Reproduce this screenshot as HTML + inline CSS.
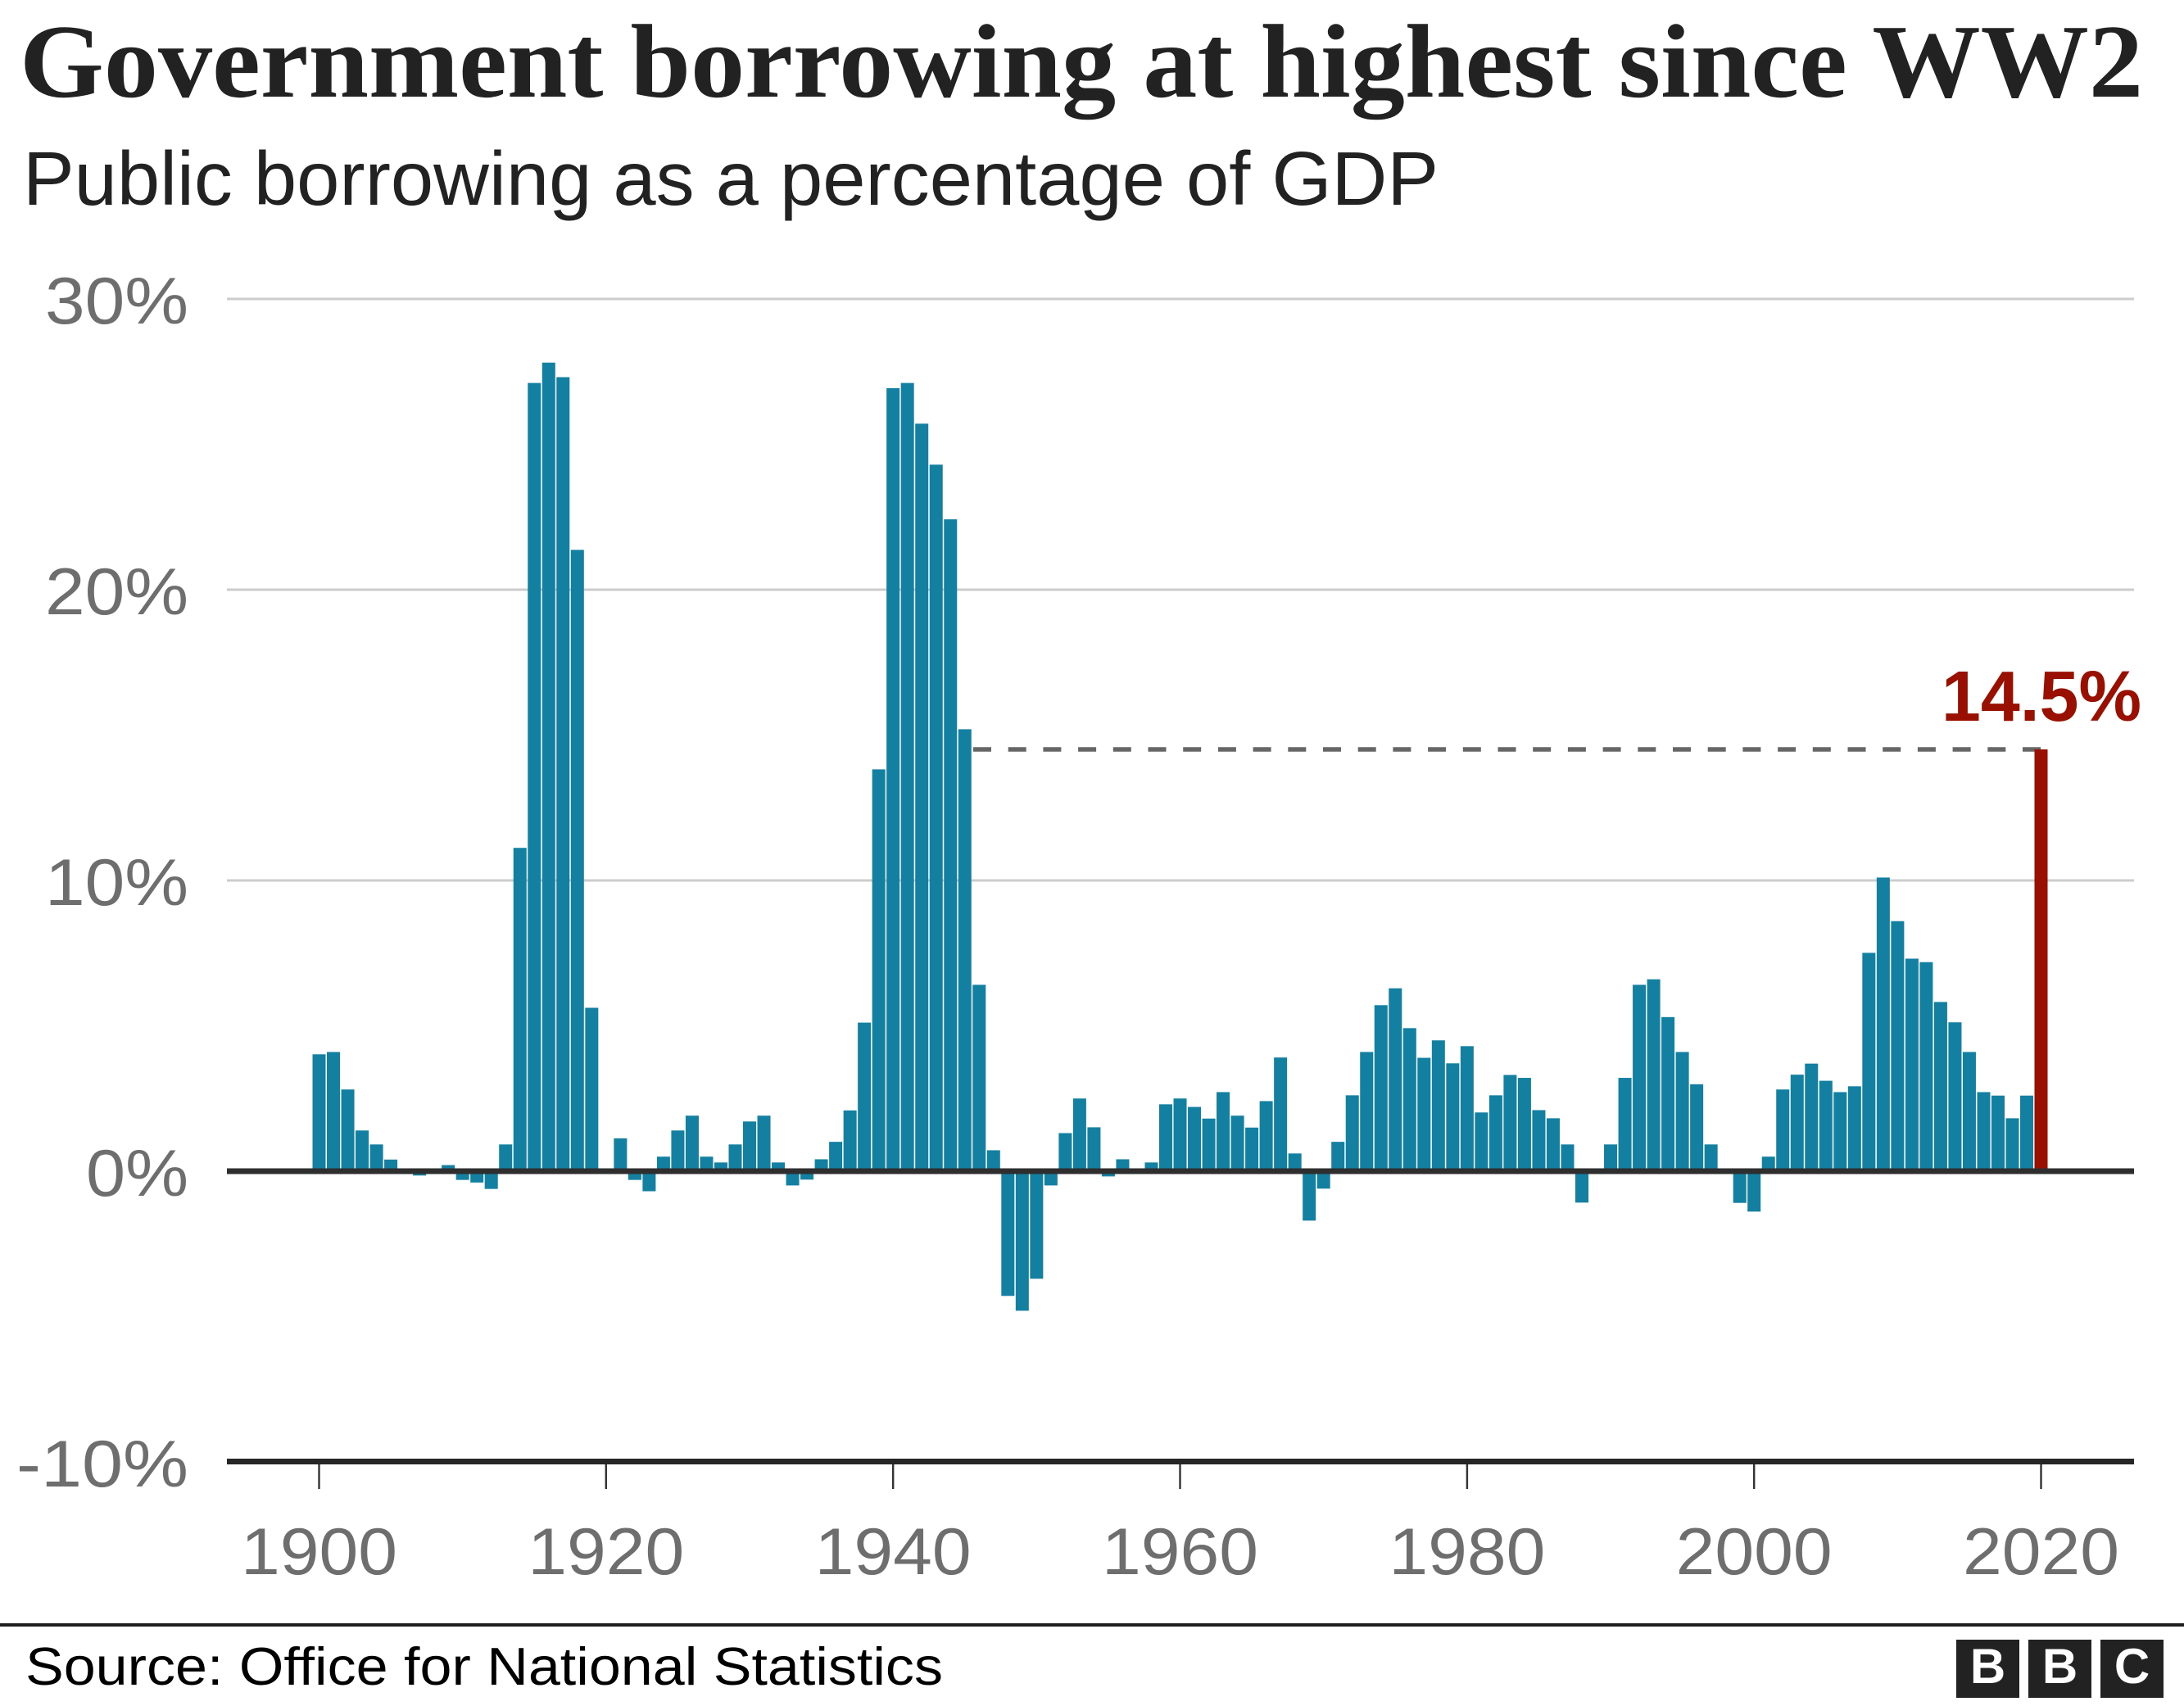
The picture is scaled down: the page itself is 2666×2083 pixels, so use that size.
<!DOCTYPE html>
<html>
<head>
<meta charset="utf-8">
<style>
  html, body { margin: 0; padding: 0; background: #ffffff; }
  body { width: 2666px; height: 2083px; overflow: hidden; }
  svg { display: block; }
  .sans { font-family: "Liberation Sans", "DejaVu Sans", sans-serif; }
  .serif { font-family: "Liberation Serif", "DejaVu Serif", serif; }
</style>
</head>
<body>
<svg width="2666" height="2083" viewBox="0 0 2666 2083" xmlns="http://www.w3.org/2000/svg">
  <rect x="0" y="0" width="2666" height="2083" fill="#ffffff"/>

  <!-- Title & subtitle -->
  <text class="serif" x="24" y="118" font-size="128" font-weight="bold" fill="#222222" textLength="2592" lengthAdjust="spacingAndGlyphs">Government borrowing at highest since WW2</text>
  <text class="sans" x="28" y="250" font-size="93" fill="#222222" textLength="1728" lengthAdjust="spacingAndGlyphs">Public borrowing as a percentage of GDP</text>

  <!-- Gridlines -->
  <g fill="#cccccc">
    <rect x="277" y="363.5" width="2328" height="3"/>
    <rect x="277" y="718.5" width="2328" height="3"/>
    <rect x="277" y="1073.5" width="2328" height="3"/>
  </g>

  <!-- Y axis labels -->
  <g class="sans" font-size="81" fill="#6e6e6e" text-anchor="end">
    <text x="230" y="395" textLength="175" lengthAdjust="spacingAndGlyphs">30%</text>
    <text x="230" y="750" textLength="175" lengthAdjust="spacingAndGlyphs">20%</text>
    <text x="230" y="1105" textLength="175" lengthAdjust="spacingAndGlyphs">10%</text>
    <text x="230" y="1460" textLength="125" lengthAdjust="spacingAndGlyphs">0%</text>
    <text x="230" y="1815" textLength="210" lengthAdjust="spacingAndGlyphs">-10%</text>
  </g>

  <!-- Bars (years 1900-2019) -->
  <g transform="translate(381.5 1430) scale(17.517 -35.5)" fill="#1380a1">
    <rect x="0" y="0" width="0.9134" height="4.02"/>
    <rect x="1" y="0" width="0.9134" height="4.10"/>
    <rect x="2" y="0" width="0.9134" height="2.81"/>
    <rect x="3" y="0" width="0.9134" height="1.40"/>
    <rect x="4" y="0" width="0.9134" height="0.92"/>
    <rect x="5" y="0" width="0.9134" height="0.40"/>
    <rect x="7" y="-0.15" width="0.9134" height="0.15"/>
    <rect x="9" y="0" width="0.9134" height="0.21"/>
    <rect x="10" y="-0.30" width="0.9134" height="0.30"/>
    <rect x="11" y="-0.39" width="0.9134" height="0.39"/>
    <rect x="12" y="-0.61" width="0.9134" height="0.61"/>
    <rect x="13" y="0" width="0.9134" height="0.92"/>
    <rect x="14" y="0" width="0.9134" height="11.12"/>
    <rect x="15" y="0" width="0.9134" height="27.11"/>
    <rect x="16" y="0" width="0.9134" height="27.81"/>
    <rect x="17" y="0" width="0.9134" height="27.31"/>
    <rect x="18" y="0" width="0.9134" height="21.37"/>
    <rect x="19" y="0" width="0.9134" height="5.62"/>
    <rect x="21" y="0" width="0.9134" height="1.13"/>
    <rect x="22" y="-0.30" width="0.9134" height="0.30"/>
    <rect x="23" y="-0.69" width="0.9134" height="0.69"/>
    <rect x="24" y="0" width="0.9134" height="0.50"/>
    <rect x="25" y="0" width="0.9134" height="1.40"/>
    <rect x="26" y="0" width="0.9134" height="1.91"/>
    <rect x="27" y="0" width="0.9134" height="0.50"/>
    <rect x="28" y="0" width="0.9134" height="0.30"/>
    <rect x="29" y="0" width="0.9134" height="0.92"/>
    <rect x="30" y="0" width="0.9134" height="1.71"/>
    <rect x="31" y="0" width="0.9134" height="1.91"/>
    <rect x="32" y="0" width="0.9134" height="0.30"/>
    <rect x="33" y="-0.49" width="0.9134" height="0.49"/>
    <rect x="34" y="-0.29" width="0.9134" height="0.29"/>
    <rect x="35" y="0" width="0.9134" height="0.41"/>
    <rect x="36" y="0" width="0.9134" height="1.01"/>
    <rect x="37" y="0" width="0.9134" height="2.09"/>
    <rect x="38" y="0" width="0.9134" height="5.11"/>
    <rect x="39" y="0" width="0.9134" height="13.82"/>
    <rect x="40" y="0" width="0.9134" height="26.93"/>
    <rect x="41" y="0" width="0.9134" height="27.11"/>
    <rect x="42" y="0" width="0.9134" height="25.71"/>
    <rect x="43" y="0" width="0.9134" height="24.30"/>
    <rect x="44" y="0" width="0.9134" height="22.42"/>
    <rect x="45" y="0" width="0.9134" height="15.20"/>
    <rect x="46" y="0" width="0.9134" height="6.41"/>
    <rect x="47" y="0" width="0.9134" height="0.72"/>
    <rect x="48" y="-4.29" width="0.9134" height="4.29"/>
    <rect x="49" y="-4.80" width="0.9134" height="4.80"/>
    <rect x="50" y="-3.70" width="0.9134" height="3.70"/>
    <rect x="51" y="-0.49" width="0.9134" height="0.49"/>
    <rect x="52" y="0" width="0.9134" height="1.31"/>
    <rect x="53" y="0" width="0.9134" height="2.50"/>
    <rect x="54" y="0" width="0.9134" height="1.51"/>
    <rect x="55" y="-0.18" width="0.9134" height="0.18"/>
    <rect x="56" y="0" width="0.9134" height="0.41"/>
    <rect x="58" y="0" width="0.9134" height="0.30"/>
    <rect x="59" y="0" width="0.9134" height="2.30"/>
    <rect x="60" y="0" width="0.9134" height="2.50"/>
    <rect x="61" y="0" width="0.9134" height="2.21"/>
    <rect x="62" y="0" width="0.9134" height="1.81"/>
    <rect x="63" y="0" width="0.9134" height="2.72"/>
    <rect x="64" y="0" width="0.9134" height="1.91"/>
    <rect x="65" y="0" width="0.9134" height="1.50"/>
    <rect x="66" y="0" width="0.9134" height="2.41"/>
    <rect x="67" y="0" width="0.9134" height="3.91"/>
    <rect x="68" y="0" width="0.9134" height="0.61"/>
    <rect x="69" y="-1.70" width="0.9134" height="1.70"/>
    <rect x="70" y="-0.60" width="0.9134" height="0.60"/>
    <rect x="71" y="0" width="0.9134" height="1.01"/>
    <rect x="72" y="0" width="0.9134" height="2.61"/>
    <rect x="73" y="0" width="0.9134" height="4.10"/>
    <rect x="74" y="0" width="0.9134" height="5.71"/>
    <rect x="75" y="0" width="0.9134" height="6.29"/>
    <rect x="76" y="0" width="0.9134" height="4.92"/>
    <rect x="77" y="0" width="0.9134" height="3.90"/>
    <rect x="78" y="0" width="0.9134" height="4.50"/>
    <rect x="79" y="0" width="0.9134" height="3.71"/>
    <rect x="80" y="0" width="0.9134" height="4.30"/>
    <rect x="81" y="0" width="0.9134" height="2.02"/>
    <rect x="82" y="0" width="0.9134" height="2.61"/>
    <rect x="83" y="0" width="0.9134" height="3.31"/>
    <rect x="84" y="0" width="0.9134" height="3.21"/>
    <rect x="85" y="0" width="0.9134" height="2.10"/>
    <rect x="86" y="0" width="0.9134" height="1.82"/>
    <rect x="87" y="0" width="0.9134" height="0.92"/>
    <rect x="88" y="-1.08" width="0.9134" height="1.08"/>
    <rect x="90" y="0" width="0.9134" height="0.92"/>
    <rect x="91" y="0" width="0.9134" height="3.21"/>
    <rect x="92" y="0" width="0.9134" height="6.41"/>
    <rect x="93" y="0" width="0.9134" height="6.60"/>
    <rect x="94" y="0" width="0.9134" height="5.30"/>
    <rect x="95" y="0" width="0.9134" height="4.10"/>
    <rect x="96" y="0" width="0.9134" height="2.99"/>
    <rect x="97" y="0" width="0.9134" height="0.92"/>
    <rect x="99" y="-1.09" width="0.9134" height="1.09"/>
    <rect x="100" y="-1.39" width="0.9134" height="1.39"/>
    <rect x="101" y="0" width="0.9134" height="0.50"/>
    <rect x="102" y="0" width="0.9134" height="2.81"/>
    <rect x="103" y="0" width="0.9134" height="3.32"/>
    <rect x="104" y="0" width="0.9134" height="3.70"/>
    <rect x="105" y="0" width="0.9134" height="3.11"/>
    <rect x="106" y="0" width="0.9134" height="2.72"/>
    <rect x="107" y="0" width="0.9134" height="2.92"/>
    <rect x="108" y="0" width="0.9134" height="7.51"/>
    <rect x="109" y="0" width="0.9134" height="10.10"/>
    <rect x="110" y="0" width="0.9134" height="8.60"/>
    <rect x="111" y="0" width="0.9134" height="7.31"/>
    <rect x="112" y="0" width="0.9134" height="7.19"/>
    <rect x="113" y="0" width="0.9134" height="5.82"/>
    <rect x="114" y="0" width="0.9134" height="5.12"/>
    <rect x="115" y="0" width="0.9134" height="4.10"/>
    <rect x="116" y="0" width="0.9134" height="2.72"/>
    <rect x="117" y="0" width="0.9134" height="2.60"/>
    <rect x="118" y="0" width="0.9134" height="1.82"/>
    <rect x="119" y="0" width="0.9134" height="2.60"/>
  </g>

  <!-- Dashed reference line -->
  <line x1="1188" y1="915" x2="2491" y2="915" stroke="#666666" stroke-width="5.5" stroke-dasharray="22 20.7"/>

  <!-- Highlight bar 2020 -->
  <rect x="2483.5" y="915" width="16" height="515" fill="#990f00"/>

  <!-- Annotation -->
  <text class="sans" x="2492" y="880" font-size="87" font-weight="bold" fill="#990f00" text-anchor="middle" textLength="244" lengthAdjust="spacingAndGlyphs">14.5%</text>

  <!-- Zero line and bottom axis -->
  <rect x="277" y="1426.5" width="2328" height="7" fill="#2e2e2e"/>
  <rect x="277" y="1781" width="2328" height="7" fill="#262626"/>

  <!-- Ticks -->
  <g fill="#333333">
    <rect x="388.3" y="1788" width="2.4" height="30"/>
    <rect x="738.6" y="1788" width="2.4" height="30"/>
    <rect x="1089" y="1788" width="2.4" height="30"/>
    <rect x="1439.3" y="1788" width="2.4" height="30"/>
    <rect x="1789.7" y="1788" width="2.4" height="30"/>
    <rect x="2140" y="1788" width="2.4" height="30"/>
    <rect x="2490.3" y="1788" width="2.4" height="30"/>
  </g>

  <!-- X axis labels -->
  <g class="sans" font-size="81" fill="#6e6e6e" text-anchor="middle">
    <text x="389.5" y="1922" textLength="191" lengthAdjust="spacingAndGlyphs">1900</text>
    <text x="739.8" y="1922" textLength="191" lengthAdjust="spacingAndGlyphs">1920</text>
    <text x="1090.2" y="1922" textLength="191" lengthAdjust="spacingAndGlyphs">1940</text>
    <text x="1440.5" y="1922" textLength="191" lengthAdjust="spacingAndGlyphs">1960</text>
    <text x="1790.9" y="1922" textLength="191" lengthAdjust="spacingAndGlyphs">1980</text>
    <text x="2141.2" y="1922" textLength="191" lengthAdjust="spacingAndGlyphs">2000</text>
    <text x="2491.5" y="1922" textLength="191" lengthAdjust="spacingAndGlyphs">2020</text>
  </g>

  <!-- Footer -->
  <rect x="0" y="1982" width="2666" height="4" fill="#1e1e1e"/>
  <text class="sans" x="31" y="2057" font-size="65" fill="#000000" textLength="1120" lengthAdjust="spacingAndGlyphs">Source: Office for National Statistics</text>

  <!-- BBC logo -->
  <g fill="#222222">
    <rect x="2388" y="2002" width="77" height="71"/>
    <rect x="2476" y="2002" width="77" height="71"/>
    <rect x="2564" y="2002" width="77" height="71"/>
  </g>
  <g class="sans" font-size="60" font-weight="bold" fill="#ffffff" text-anchor="middle">
    <text x="2426.5" y="2055">B</text>
    <text x="2514.5" y="2055">B</text>
    <text x="2602.5" y="2055">C</text>
  </g>
</svg>
</body>
</html>
